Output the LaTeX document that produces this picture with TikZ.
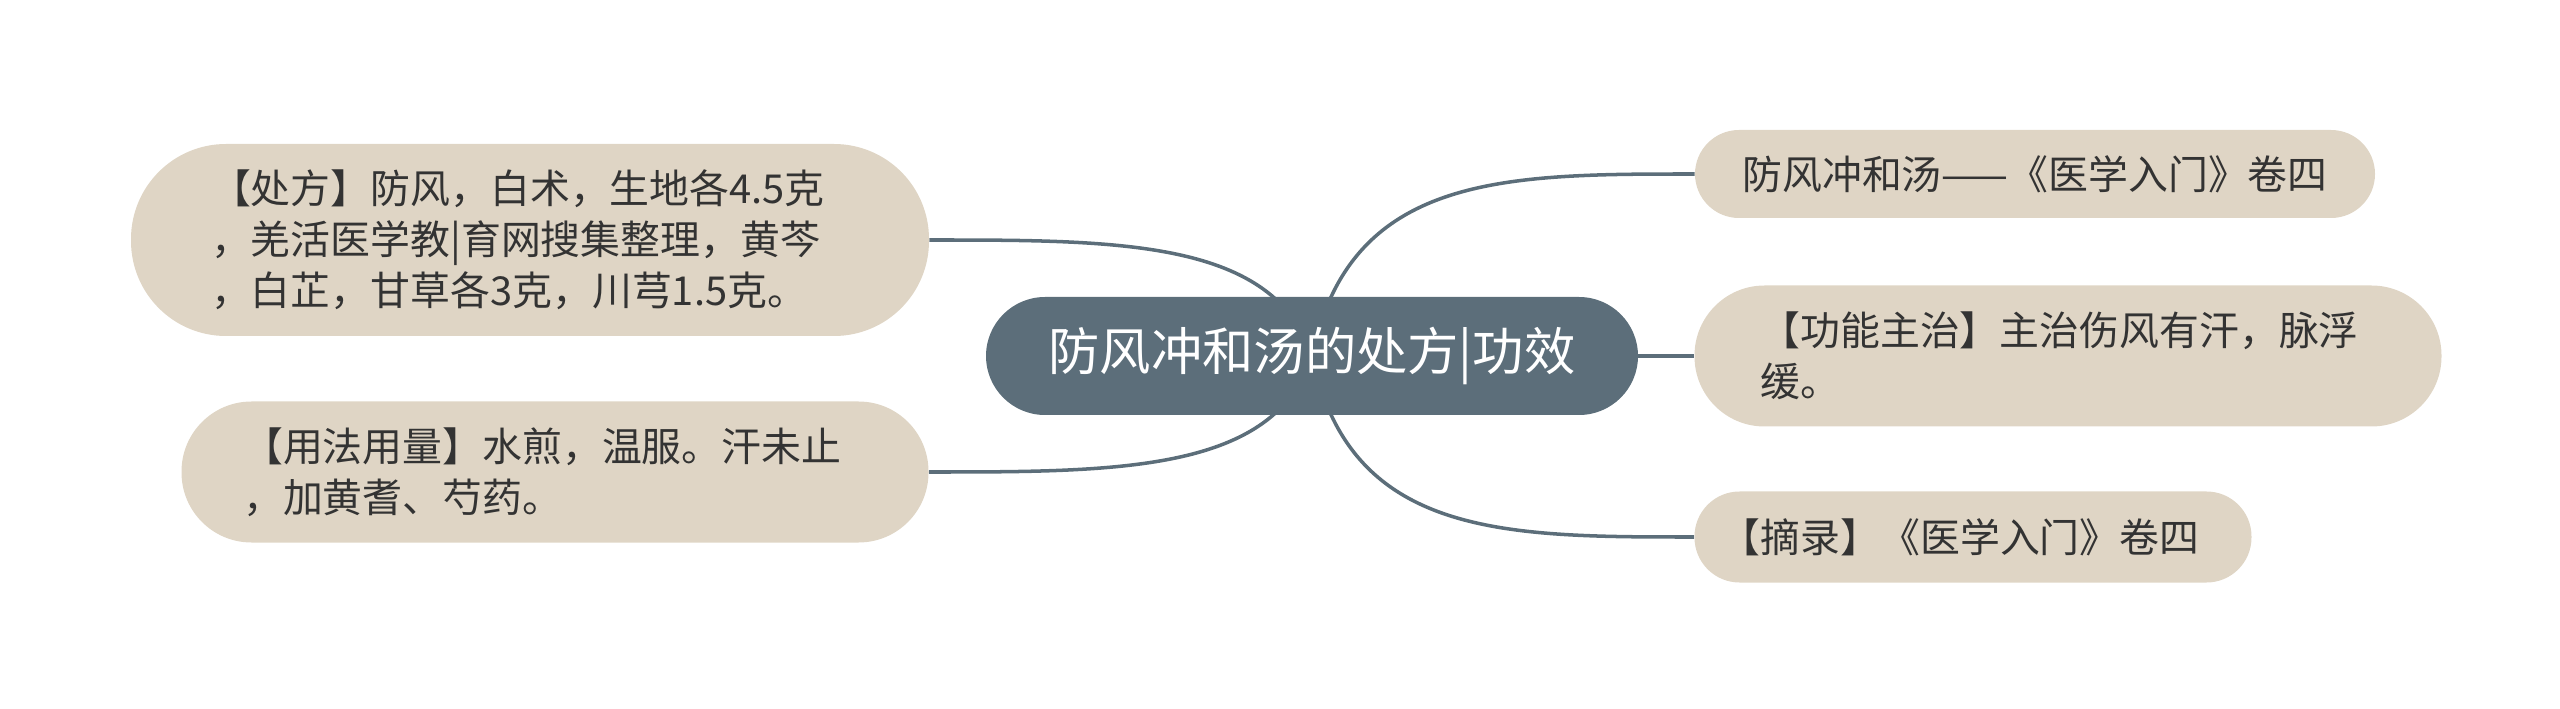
\documentclass[tikz,border=0pt]{standalone}
\usepackage{fontspec}
\usepackage{xcolor}
\usetikzlibrary{backgrounds}
\newfontfamily\cjk{Noto Sans CJK SC}
\definecolor{hubfill}{HTML}{5C6E7A}
\definecolor{leaffill}{HTML}{DFD5C5}
\definecolor{leaftext}{HTML}{333333}

\tikzset{
	leaf/.style={fill=leaffill, text=leaftext, align=left, inner sep=0pt,
		font=\cjk\fontsize{22.7}{29}\selectfont},
	hub/.style={fill=hubfill, text=white, inner sep=0pt,
		font=\cjk\fontsize{29.2}{34}\selectfont},
	link/.style={draw=hubfill, line width=2pt}
}

\begin{document}
\begin{tikzpicture}[x=0.02cm,y=-0.02cm]
	\useasboundingbox (0,0) rectangle (2560,709);
	% centre
	\node[hub, minimum width=652*0.02cm, minimum height=118*0.02cm, rounded corners=1.18cm] (hub) at (1312,356) {防风冲和汤的处方|功效};
	% left side
	\node[leaf, text width=363pt, minimum width=798*0.02cm, minimum height=192*0.02cm, rounded corners=1.9cm] (recipe) at (530,240) {【处方】防风，白术，生地各4.5克\\，羌活医学教|育网搜集整理，黄芩\\，白芷，甘草各3克，川芎1.5克。};
	\node[leaf, text width=355pt, minimum width=747*0.02cm, minimum height=141*0.02cm, rounded corners=1.4cm] (usage) at (555,472) {【用法用量】水煎，温服。汗未止\\，加黄耆、芍药。};
	% right side
	\node[leaf, minimum width=680*0.02cm, minimum height=88*0.02cm, rounded corners=0.88cm] (title) at (2035,174) {防风冲和汤——《医学入门》卷四};
	\node[leaf, text width=350pt, minimum width=747*0.02cm, minimum height=141*0.02cm, rounded corners=1.4cm] (effect) at (2068,356) {【功能主治】主治伤风有汗，脉浮\\缓。};
	\node[leaf, text width=287pt, minimum width=557*0.02cm, minimum height=91*0.02cm, rounded corners=0.9cm] (source) at (1973,537) {【摘录】《医学入门》卷四};
	% connectors
	\begin{scope}[on background layer]
		\draw[link] (hub.center) .. controls +(-38,-116) and +(191,0) .. (recipe.east);
		\draw[link] (hub.center) .. controls +(-38,116) and +(191,0) .. (usage.east);
		\draw[link] (hub.center) .. controls +(38,-182) and +(-191,0) .. (title.west);
		\draw[link] (hub.center) -- (effect.west);
		\draw[link] (hub.center) .. controls +(38,181) and +(-191,0) .. (source.west);
	\end{scope}
\end{tikzpicture}
\end{document}
